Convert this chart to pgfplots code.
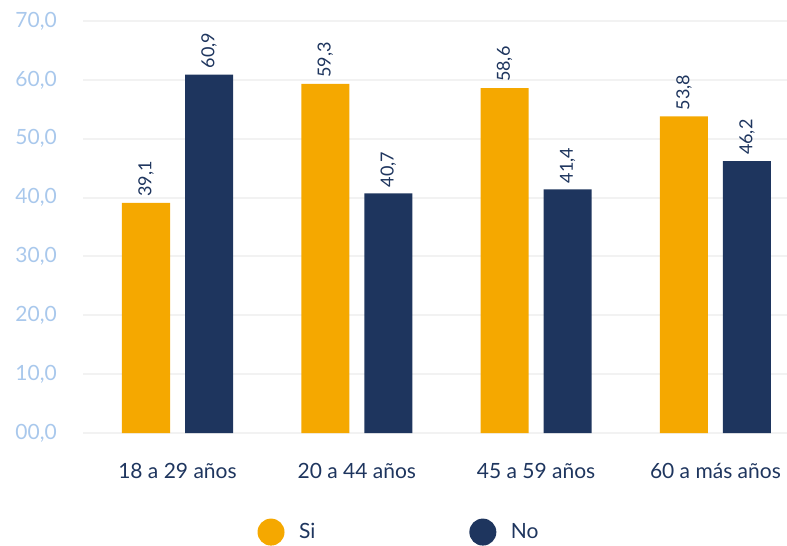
\documentclass[border=0pt]{standalone}
\usepackage{pgfplots}
\pgfplotsset{compat=1.18}
\usepackage{fontspec}
\setmainfont{Lato}
\definecolor{si}{HTML}{F5A800}
\definecolor{no}{HTML}{1E355E}
\definecolor{tickblue}{HTML}{A9C8EC}
\definecolor{gridgray}{HTML}{F2F2F2}

\begin{document}
\begin{tikzpicture}
\useasboundingbox (-83pt,-113pt) rectangle (704pt,433pt);
\clip (-83pt,-113pt) rectangle (704pt,433pt);
\begin{axis}[
    at={(0pt,0pt)}, anchor=south west,
    scale only axis, width=704pt, height=412pt,
    ybar=15pt, bar width=48pt,
    xmin=-0.527, xmax=3.399, ymin=0, ymax=70,
    enlargelimits=false, clip=false,
    axis line style={draw=none},
    major tick length=0pt,
    xtick={0,1,2,3},
    xticklabels={18 a 29 años, 20 a 44 años, 45 a 59 años, 60 a más años},
    ytick={0,10,...,70},
    yticklabels={{00,0},{10,0},{20,0},{30,0},{40,0},{50,0},{60,0},{70,0}},
    ymajorgrids, grid style={gridgray, line width=2pt},
    xticklabel style={font=\fontsize{21}{25}\selectfont, text=no, anchor=base, inner sep=0pt, yshift=-45pt},
    yticklabel style={font=\fontsize{21}{25}\selectfont, text=tickblue, anchor=east, inner sep=0pt, xshift=-26pt},
    /pgf/number format/assume math mode=true,
    nodes near coords={\pgfmathprintnumber[use comma, fixed, fixed zerofill, precision=1]{\pgfplotspointmeta}},
    every node near coord/.append style={font=\fontsize{18}{20}\selectfont, text=no, rotate=90, anchor=west, inner sep=6pt},
    legend columns=2,
    legend style={draw=none, fill=none, inner sep=0pt, outer sep=0pt,
        at={(rel axis cs:0.2479,-0.2405)}, anchor=west,
        font=\fontsize{21}{25}\selectfont, text=no,
        nodes={inner sep=0pt},
        /tikz/every odd column/.append style={column sep=14.5pt},
        /tikz/every even column/.append style={column sep=154pt}},
]
\addplot[fill=si, draw=none, legend image code/.code={\fill[si] (0pt,0pt) circle (13.5pt);}]
    coordinates {(0,39.1) (1,59.3) (2,58.6) (3,53.8)};
\addplot[fill=no, draw=none, legend image code/.code={\fill[no] (0pt,0pt) circle (13.5pt);}]
    coordinates {(0,60.9) (1,40.7) (2,41.4) (3,46.2)};
\legend{Si, No}
\end{axis}
\end{tikzpicture}
\end{document}
